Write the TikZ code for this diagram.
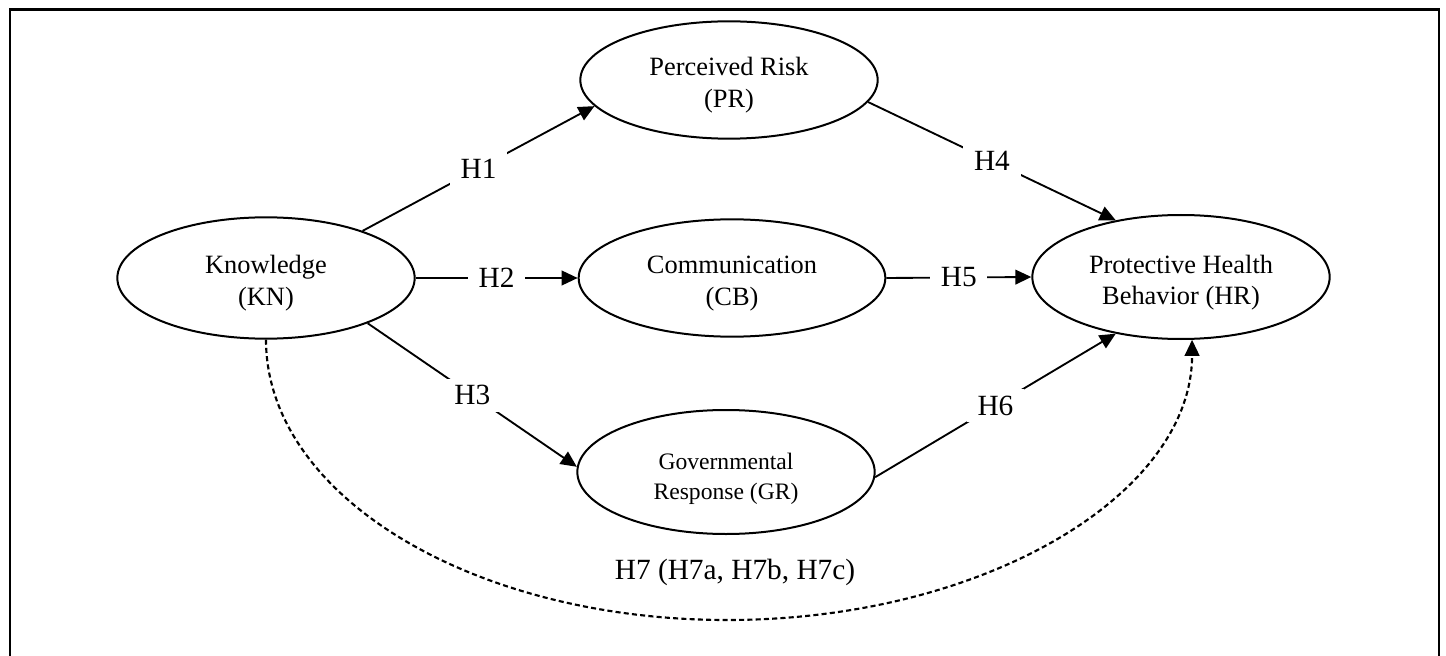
\documentclass[tikz,border=0pt]{standalone}
\usepackage{fontspec}
\setmainfont{Liberation Serif}
\usetikzlibrary{arrows.meta,shapes.geometric}
\newcommand{\toppad}{\rule{0pt}{22pt}}
\begin{document}
\begin{tikzpicture}[x=0.75pt,y=0.75pt,
  latent/.style={ellipse,draw,line width=1.5pt,inner sep=0pt,
    minimum width=223pt,minimum height=91pt,align=center,
    font=\fontsize{19.8}{24}\selectfont},
  hyp/.style={fill=white,inner xsep=8pt,inner ysep=5pt,
    font=\fontsize{22}{26}\selectfont},
  link/.style={line width=1.4pt,-{Triangle[length=12pt,width=11pt]}},
  dlink/.style={line width=1.6pt,dash pattern=on 3.8pt off 2.4pt,
    -{Triangle[length=12pt,width=11pt]}},
  frame/.style={line width=2.2pt},
]
\useasboundingbox (0,0) rectangle (1446,-656);
\draw[frame] (10,-656) -- (10,-9.5) -- (1439,-9.5) -- (1439,-656);

\node[latent] (kn) at (266,-278) {\toppad Knowledge\\(KN)};
\node[latent,minimum height=88pt] (pr) at (729,-80) {\toppad Perceived Risk\\(PR)};
\node[latent,minimum width=230pt,minimum height=88pt] (cb) at (732,-278) {\toppad Communication\\(CB)};
\node[latent,minimum height=93pt,font=\fontsize{17.7}{22.5}\selectfont] (gr) at (726,-472) {\toppad Governmental\\Response (GR)};
\node[latent,minimum height=93pt,font=\fontsize{19.8}{23}\selectfont] (hr) at (1181,-277) {\toppad Protective Health\\Behavior (HR)};

\draw[link] (kn.26) -- node[hyp] (h1) {H1} (pr.191);
\draw[link] (kn.east) -- node[hyp] (h2) {H2} (cb.west);
\draw[link] (kn.-24) -- node[hyp] (h3) {H3} (gr.178);
\draw[link] (pr.-9) -- node[hyp] (h4) {H4} (hr.139);
\draw[link] (cb.east) -- node[hyp] (h5) {H5} (hr.west);
\draw[link] (gr.-2) -- node[hyp] (h6) {H6} (hr.221);

\coordinate (h7bot) at (727,-620);
\draw[dlink] (kn.south) to[out=-90,in=180,out distance=117pt,in distance=191pt] (h7bot)
  to[out=0,in=-90,out distance=193pt,in distance=116pt] (hr.-80);
\node[font=\fontsize{22}{26}\selectfont] (h7) at (735,-572) {H7 (H7a, H7b, H7c)};
\end{tikzpicture}
\end{document}
